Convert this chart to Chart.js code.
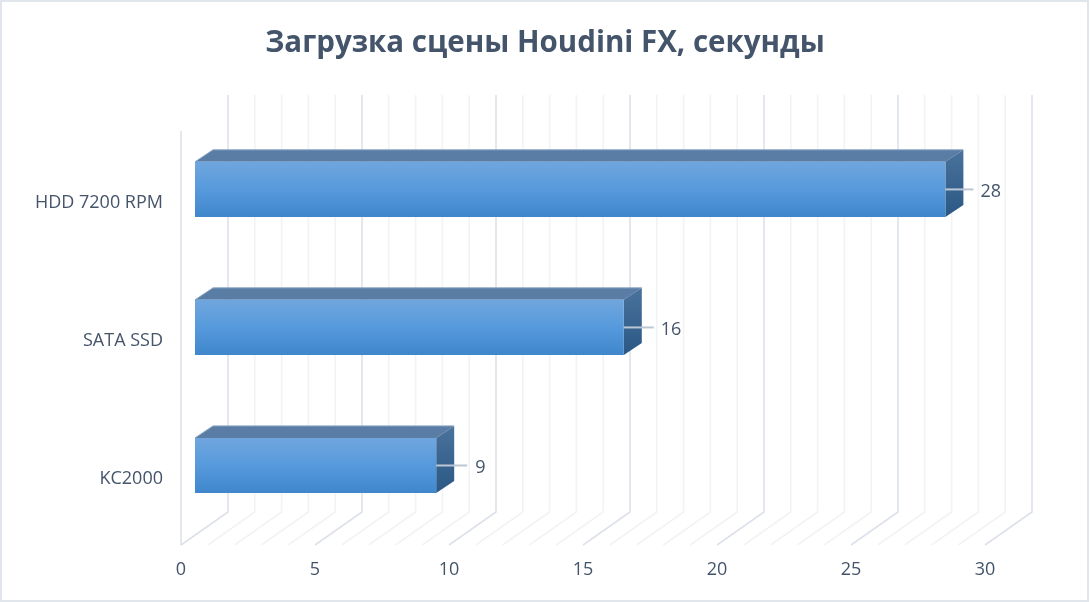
<!DOCTYPE html>
<html>
<head>
<meta charset="utf-8">
<style>
  html, body { margin: 0; padding: 0; background: #fff; }
  #wrap { position: relative; width: 1090px; height: 602px; }
</style>
<script src="https://cdn.jsdelivr.net/npm/chart.js@4/dist/chart.umd.js"></script>
</head>
<body>
<div id="wrap"><canvas id="chart"></canvas></div>
<script>
const chartTitle = 'Загрузка сцены Houdini FX, секунды';
const categories = ['HDD 7200 RPM', 'SATA SSD', 'KC2000'];
const loadSeconds = [28, 16, 9];
const xMin = 0;
const xMax = 30;
const xStep = 5;

const textColor = '#44546a';
const fontName = '"Open Sans", sans-serif';

// Depth of the fake 3D box, in pixels
const wallDx = 47, wallDy = 33;
const barDx = 18, barDy = 12;
const barInset = 14;
const wallTop = 95, leftWallTop = 131, floorFront = 545;
// Leader line length and label gap differ a little per bar in the original
const leaderLengths = [28, 30, 31];
const labelGaps = [35, 37, 39];

const box3d = {
    id: 'box3d',
    beforeDatasetsDraw(chart) {
        const ctx = chart.ctx, x = chart.scales.x;
        const floorBack = floorFront - wallDy;
        ctx.save();

        // outer frame
        ctx.strokeStyle = '#e1e5ec';
        ctx.lineWidth = 2;
        ctx.strokeRect(1, 1, chart.width - 3, chart.height - 2);

        // wall and floor lines, one per unit, every fifth is darker
        ctx.lineWidth = 1.6;
        for (let v = xMin; v <= xMax; v++) {
            const px = x.getPixelForValue(v);
            ctx.strokeStyle = v % xStep === 0 ? '#dde2ea' : '#f2f3f7';
            ctx.beginPath();
            ctx.moveTo(px + wallDx, wallTop);
            ctx.lineTo(px + wallDx, floorBack);
            ctx.lineTo(px, floorFront);
            ctx.stroke();
        }
        ctx.strokeStyle = '#dde2ea';
        ctx.beginPath();
        ctx.moveTo(x.getPixelForValue(xMin), leftWallTop);
        ctx.lineTo(x.getPixelForValue(xMin), floorFront);
        ctx.stroke();

        // top and side faces of the bars
        chart.getDatasetMeta(0).data.forEach((bar) => {
            const top = bar.y - bar.height / 2, bottom = bar.y + bar.height / 2;
            ctx.fillStyle = '#5a7da6';
            ctx.beginPath();
            ctx.moveTo(bar.base, top);
            ctx.lineTo(bar.base + barDx, top - barDy);
            ctx.lineTo(bar.x + barDx, top - barDy);
            ctx.lineTo(bar.x, top);
            ctx.closePath();
            ctx.fill();

            const side = ctx.createLinearGradient(0, top - barDy, 0, bottom);
            side.addColorStop(0, '#4a729c');
            side.addColorStop(1, '#2a5884');
            ctx.fillStyle = side;
            ctx.beginPath();
            ctx.moveTo(bar.x, top);
            ctx.lineTo(bar.x + barDx, top - barDy);
            ctx.lineTo(bar.x + barDx, bottom - barDy);
            ctx.lineTo(bar.x, bottom);
            ctx.closePath();
            ctx.fill();

            ctx.strokeStyle = '#8fa9c6';
            ctx.lineWidth = 1;
            ctx.beginPath();
            ctx.moveTo(bar.base, top);
            ctx.lineTo(bar.base + barDx, top - barDy);
            ctx.lineTo(bar.x + barDx, top - barDy);
            ctx.stroke();
        });
        ctx.restore();
    },
    afterDatasetsDraw(chart) {
        const ctx = chart.ctx;
        ctx.save();
        ctx.font = '18px ' + fontName;
        ctx.textBaseline = 'middle';
        chart.getDatasetMeta(0).data.forEach((bar, i) => {
            ctx.strokeStyle = '#bcc7d6';
            ctx.lineWidth = 2;
            ctx.beginPath();
            ctx.moveTo(bar.x, bar.y);
            ctx.lineTo(bar.x + leaderLengths[i], bar.y);
            ctx.stroke();
            ctx.fillStyle = textColor;
            ctx.fillText(loadSeconds[i], bar.x + labelGaps[i], bar.y + 2);
        });
        ctx.restore();
    }
};

new Chart(document.getElementById('chart'), {
    type: 'bar',
    data: {
        labels: categories,
        datasets: [{
            data: loadSeconds,
            xAxisID: 'xBar',
            barPercentage: 0.4,
            categoryPercentage: 1,
            backgroundColor(context) {
                const chart = context.chart;
                if (!chart.chartArea) return '#5599dc';
                const mid = chart.scales.y.getPixelForValue(context.dataIndex);
                const half = (chart.chartArea.height / categories.length) * 0.2;
                const g = chart.ctx.createLinearGradient(0, mid - half, 0, mid + half);
                g.addColorStop(0, '#70a6de');
                g.addColorStop(0.5, '#569adc');
                g.addColorStop(1, '#3f86cb');
                return g;
            }
        }]
    },
    options: {
        indexAxis: 'y',
        responsive: true,
        maintainAspectRatio: false,
        animation: false,
        plugins: {
            legend: { display: false },
            tooltip: { enabled: false },
            title: {
                display: true,
                text: chartTitle,
                color: textColor,
                font: { family: fontName, size: 29.5, weight: 'bold' },
                padding: { top: 26, bottom: 59 }
            }
        },
        scales: {
            x: {
                type: 'linear',
                position: 'bottom',
                min: xMin,
                max: xMax,
                grid: { display: false },
                border: { display: false },
                ticks: {
                    stepSize: xStep,
                    color: textColor,
                    padding: 17,
                    maxRotation: 0,
                    font: { family: fontName, size: 18 }
                },
                afterFit(scale) { scale.height = 602 - 534.5; }
            },
            // hidden axis that moves the bars off the front corner of the floor
            xBar: {
                type: 'linear',
                display: false,
                min: xMin - barInset / 26.8,
                max: xMax - barInset / 26.8
            },
            y: {
                grid: { display: false },
                border: { display: false },
                ticks: {
                    color: textColor,
                    padding: 10,
                    // blank first line puts the name below the bar's middle, as in the original
                    callback(value) { return ['', this.getLabelForValue(value)]; },
                    font: { family: fontName, size: 18, lineHeight: 1.44 }
                },
                afterFit(scale) { scale.width = 181; }
            },
            // empty right axis keeps the plot clear of the right edge but leaves the title centred
            yRight: {
                position: 'right',
                grid: { display: false },
                border: { display: false },
                ticks: { display: false },
                afterFit(scale) { scale.width = 105; }
            }
        }
    },
    plugins: [box3d]
});
</script>
</body>
</html>
